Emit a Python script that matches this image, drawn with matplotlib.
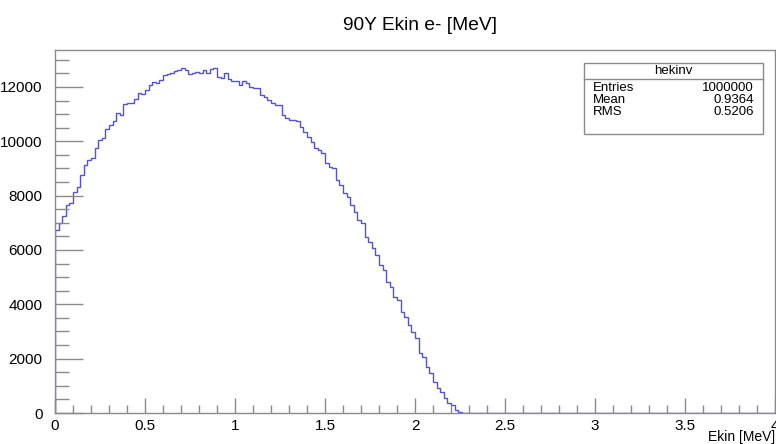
import numpy as np
import matplotlib
matplotlib.use('Agg')
import matplotlib.pyplot as plt
from matplotlib.ticker import MultipleLocator, FuncFormatter

plt.rcParams['font.family'] = ['Liberation Sans', 'DejaVu Sans']

# histogram hekinv: 200 bins from 0 to 4 MeV, counts
n_bins = 200
e_min, e_max = 0.0, 4.0
counts_nonzero = [
    6736, 6982, 7251, 7657, 7743, 8148, 8332, 8761, 9129, 9313,
    9374, 9742, 10049, 10110, 10441, 10601, 10760, 11050, 10960, 11374,
    11399, 11420, 11558, 11767, 11742, 11890, 12062, 12197, 12136, 12258,
    12442, 12479, 12530, 12602, 12626, 12687, 12626, 12479, 12530, 12565,
    12500, 12626, 12500, 12650, 12687, 12355, 12320, 12500, 12282, 12233,
    12233, 12075, 12233, 12136, 11988, 11950, 11950, 11706, 11645, 11522,
    11424, 11338, 11338, 10970, 10846, 10785, 10785, 10760, 10540, 10355,
    10171, 9987, 9742, 9681, 9558, 9190, 9067, 9006, 8577, 8393,
    8086, 7963, 7656, 7410, 7103, 6980, 6490, 6306, 6062, 5816,
    5447, 5263, 4834, 4650, 4282, 4160, 3730, 3546, 3239, 2994,
    2748, 2196, 2073, 1705, 1460, 1153, 908, 785, 539, 380,
    294, 110, 25,
]
counts = np.zeros(n_bins)
counts[:len(counts_nonzero)] = counts_nonzero
edges = np.linspace(e_min, e_max, n_bins + 1)

stats_name = "hekinv"
stats_labels = ["Entries", "Mean", "RMS"]
stats_values = ["1000000", "0.9364", "0.5206"]

fig = plt.figure(figsize=(7.76, 4.44), dpi=100)
ax = fig.add_axes([55/776, 31/444, 720/776, 363/444])

ax.stairs(counts, edges, color='#5252d8', lw=1.0)

ax.set_xlim(e_min, e_max)
ax.set_ylim(0, 13360)

grey = '#8a8a8a'
for s in ax.spines.values():
    s.set_color(grey)
    s.set_linewidth(1.0)

ax.xaxis.set_major_locator(MultipleLocator(0.5))
ax.xaxis.set_minor_locator(MultipleLocator(0.1))
ax.yaxis.set_major_locator(MultipleLocator(2000))
ax.yaxis.set_minor_locator(MultipleLocator(500))
ax.xaxis.set_major_formatter(FuncFormatter(lambda v, p: f"{v:g}"))
ax.tick_params(axis='x', which='major', direction='in', length=11, width=1, color=grey,
               labelsize=11, pad=4, top=False)
ax.tick_params(axis='x', which='minor', direction='in', length=5.5, width=1, color=grey, top=False)
ax.tick_params(axis='y', which='major', direction='in', length=20, width=1, color=grey,
               labelsize=11, pad=9, right=False)
ax.tick_params(axis='y', which='minor', direction='in', length=10, width=1, color=grey, right=False)

fig.text(420/776, 1 - 25/444, "90Y Ekin e- [MeV]", ha='center', va='center', fontsize=13.8)
fig.text(775/776, 1 - 437/444, "Ekin [MeV]", ha='right', va='center', fontsize=10)

# stats box
bx0, bx1 = 584/776, 763/776
by_top, by_sep, by_bot = 1 - 63/444, 1 - 79/444, 1 - 134/444
box = plt.Rectangle((bx0, by_bot), bx1 - bx0, by_top - by_bot, transform=fig.transFigure,
                    facecolor='white', edgecolor=grey, lw=1.0)
fig.patches.append(box)
fig.add_artist(plt.Line2D([bx0, bx1], [by_sep, by_sep], color=grey, lw=1.0,
                          transform=fig.transFigure))
fig.text((bx0 + bx1) / 2, 1 - 71/444, stats_name, ha='center', va='center', fontsize=9.5)
row_y = [88, 100, 112]
for lab, val, yy in zip(stats_labels, stats_values, row_y):
    fig.text(593/776, 1 - yy/444, lab, ha='left', va='center', fontsize=9.5)
    fig.text(754/776, 1 - yy/444, val, ha='right', va='center', fontsize=9.5)

fig.savefig("out.png", dpi=100)
